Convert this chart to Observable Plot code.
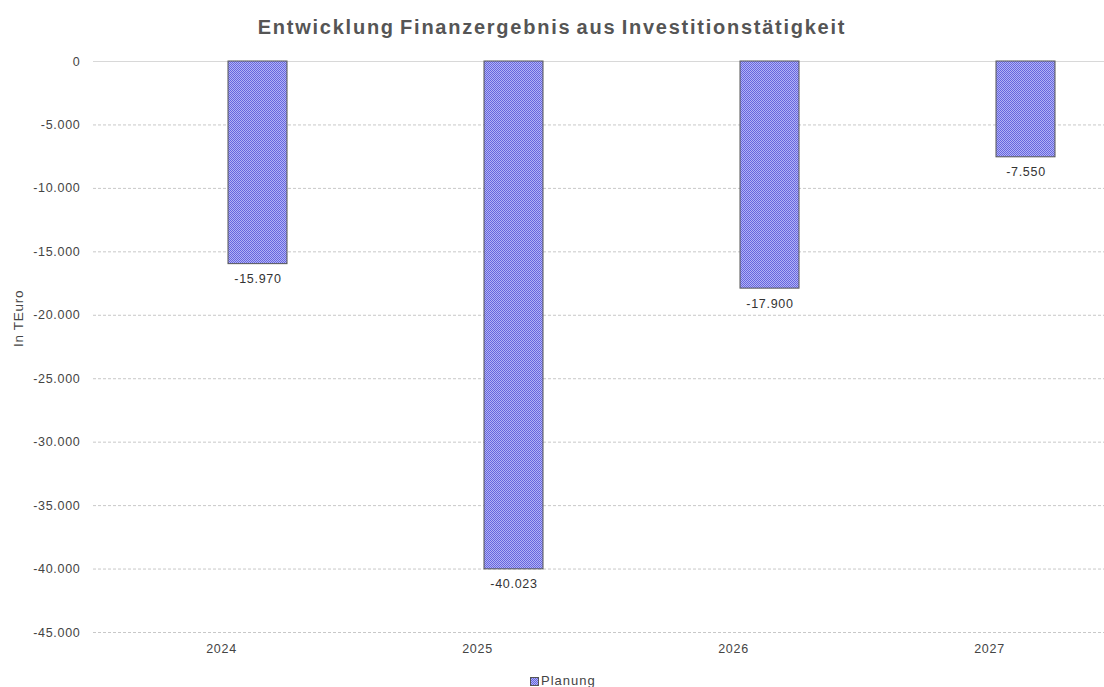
<!DOCTYPE html>
<html><head><meta charset="utf-8">
<script src="https://cdn.jsdelivr.net/npm/d3@7"></script>
<script src="https://cdn.jsdelivr.net/npm/@observablehq/plot@0.6"></script>
<style>
html,body{margin:0;padding:0;background:#fff;overflow:hidden;width:1104px;height:687px}
body{font-family:"Liberation Sans",Arial,sans-serif}
#title{box-sizing:border-box;height:44px;padding-top:17px;font-size:20px;line-height:20px;font-weight:bold;color:#555;text-align:center;letter-spacing:1.75px;word-spacing:-2px}
#legend{height:13px;line-height:13px;font-size:13px;color:#444;padding-left:530px;white-space:nowrap;letter-spacing:1px}
#legend svg{vertical-align:-1px;margin-right:2px}
</style></head><body>
<svg width="0" height="0" style="position:absolute">
  <defs>
    <pattern id="checker" width="2" height="2" patternUnits="userSpaceOnUse">
      <rect width="2" height="2" fill="#b2b2f6"></rect>
      <rect width="1" height="1" fill="#6666de"></rect>
      <rect x="1" y="1" width="1" height="1" fill="#6666de"></rect>
    </pattern>
  </defs>
</svg>
<div id="title">Entwicklung Finanzergebnis aus Investitionstätigkeit</div>
<div id="chart"></div>
<div id="legend"><svg width="9" height="9"><rect x="0.5" y="0.5" width="8" height="8" fill="url(#checker)" stroke="#555"></rect></svg>Planung</div>
<script>
const years = ["2024", "2025", "2026", "2027"];
const values = [-15970, -40023, -17900, -7550];
const yTicks = [0, -5000, -10000, -15000, -20000, -25000, -30000, -35000, -40000, -45000];
const seriesName = "Planung";
const yLabel = "In TEuro";

const data = years.map((year, i) => ({year, value: values[i]}));
const fmt = d3.formatLocale({decimal: ",", thousands: ".", grouping: [3], currency: ["", "€"], minus: "-"}).format(",d");

const chart = Plot.plot({
  width: 1104,
  height: 630,
  marginTop: 17,
  marginBottom: 42,
  marginLeft: 93,
  marginRight: 0,
  style: {fontFamily: "Liberation Sans, Arial, sans-serif", fontSize: "12.5px", color: "#444", background: "white", letterSpacing: "0.7px"},
  x: {domain: years, range: [93, 1117], padding: 0},
  y: {domain: [-45000, 0]},
  marks: [
    Plot.ruleY(yTicks.filter(d => d !== 0), {stroke: "#c8c8c8", strokeDasharray: "3,2"}),
    Plot.ruleY([0], {stroke: "#d8d8d8"}),
    Plot.barY(data, {x: "year", y: "value", fill: "url(#checker)", stroke: "#555", strokeWidth: 1, insetLeft: 135, insetRight: 62}),
    Plot.text(data, {x: "year", y: "value", text: d => fmt(d.value), dx: 36.5, dy: 15, fill: "#333", fontSize: 12.5}),
    Plot.axisX({tickSize: 0, tickPadding: 12, label: null, fontSize: 12.5, fill: "#444", style: {letterSpacing: "1.1px"}}),
    Plot.axisY({ticks: yTicks, tickFormat: fmt, tickSize: 0, tickPadding: 13, label: null, fontSize: 12.5, fill: "#444"}),
    Plot.text([yLabel], {frameAnchor: "left", dx: -75, rotate: -90, fontSize: 13.5, fill: "#444"})
  ]
});
document.getElementById("chart").appendChild(chart);
</script>
</body></html>
